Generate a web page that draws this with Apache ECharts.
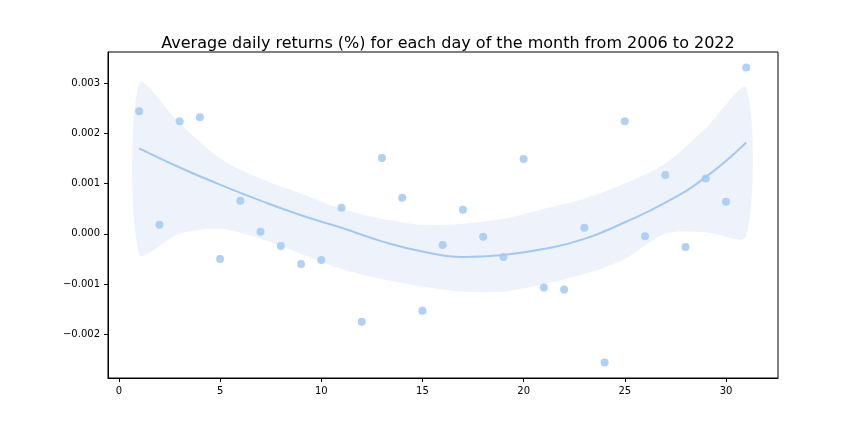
<!DOCTYPE html>
<html>
<head>
<meta charset="utf-8">
<script src="https://cdn.jsdelivr.net/npm/echarts@6/dist/echarts.min.js"></script>
<style>html,body{margin:0;padding:0;background:#fff}#main{width:864px;height:432px}</style>
</head>
<body>
<div id="main"></div>
<script>
// daily average returns, days 1..31
const days = [1,2,3,4,5,6,7,8,9,10,11,12,13,14,15,16,17,18,19,20,21,22,23,24,25,26,27,28,29,30,31];
const returns = [0.00244,0.00018,0.00224,0.00232,-0.0005,0.00066,0.00004,-0.00024,-0.0006,-0.00052,
  0.00052,-0.00175,0.00151,0.00072,-0.00153,-0.00022,0.00048,-0.00006,-0.00046,0.00149,
  -0.00107,-0.00111,0.00012,-0.00256,0.00224,-0.00005,0.00117,-0.00026,0.0011,0.00064,0.00331];
// fitted curve and confidence band
const fitX = [1,3,5,7,9,11,13,15,17,19,21,23,25,27,29,31];
const fitY = [0.0017,0.00132,0.00098,0.00066,0.00037,0.00012,-0.00015,-0.00035,-0.00046,-0.00042,-0.0003,-0.0001,0.00023,0.00062,0.00113,0.00182];
const bandHi = [0.003,0.0022,0.0015,0.0011,0.0008,0.0005,0.0003,0.00018,0.0002,0.0003,0.0005,0.0007,0.001,0.0014,0.0021,0.0029];
const bandLo = [-0.0004,0,0.0001,-0.0001,-0.0004,-0.0007,-0.0009,-0.00105,-0.00115,-0.00115,-0.001,-0.0008,-0.0005,0,0.00003,-0.00005];
const xTicks = [0,5,10,15,20,25,30];
const yTicks = [-0.002,-0.001,0,0.001,0.002,0.003];

const chart = echarts.init(document.getElementById("main"));
const lbl = { color: "#000", fontSize: 10, fontFamily: "DejaVu Sans" };
chart.setOption({
  animation: false,
  title: {
    text: "Average daily returns (%) for each day of the month from 2006 to 2022",
    left: 443, top: 31, textAlign: "center",
    textStyle: { fontSize: 16, fontWeight: "normal", color: "#000", fontFamily: "DejaVu Sans" },
  },
  grid: { left: 108, right: 86, top: 52, bottom: 54, show: true, borderColor: "#000", borderWidth: 1 },
  xAxis: {
    type: "value", min: -0.54, max: 32.57,
    axisLine: { onZero: false, lineStyle: { color: "#000" } },
    axisTick: { length: 4, lineStyle: { color: "#000" }, customValues: xTicks },
    axisLabel: Object.assign({ customValues: xTicks }, lbl),
    splitLine: { show: false },
  },
  yAxis: {
    type: "value", min: -0.00287, max: 0.00362,
    axisLine: { show: true, onZero: false, lineStyle: { color: "#000" } },
    axisTick: { show: true, length: 4, lineStyle: { color: "#000" }, customValues: yTicks },
    axisLabel: Object.assign({ customValues: yTicks, formatter: v => v.toFixed(3).replace("-", "\u2212") }, lbl),
    splitLine: { show: false },
  },
  series: [
    {
      type: "custom", silent: true, data: [0],
      renderItem: (params, api) => {
        const pts = fitX.map((x, i) => api.coord([x, bandHi[i]]))
          .concat(fitX.map((x, i) => api.coord([x, bandLo[i]])).reverse());
        return { type: "polygon", shape: { points: pts, smooth: 0.3 }, style: { fill: "#eef3fb" } };
      },
    },
    { type: "scatter", data: days.map((d, i) => [d, returns[i]]), symbolSize: 8,
      itemStyle: { color: "#a1c9f4", opacity: 0.85 } },
    { type: "line", data: fitX.map((x, i) => [x, fitY[i]]), smooth: true, symbol: "none",
      lineStyle: { color: "#a1c9f4", width: 2 } },
  ],
});
</script>
</body>
</html>
